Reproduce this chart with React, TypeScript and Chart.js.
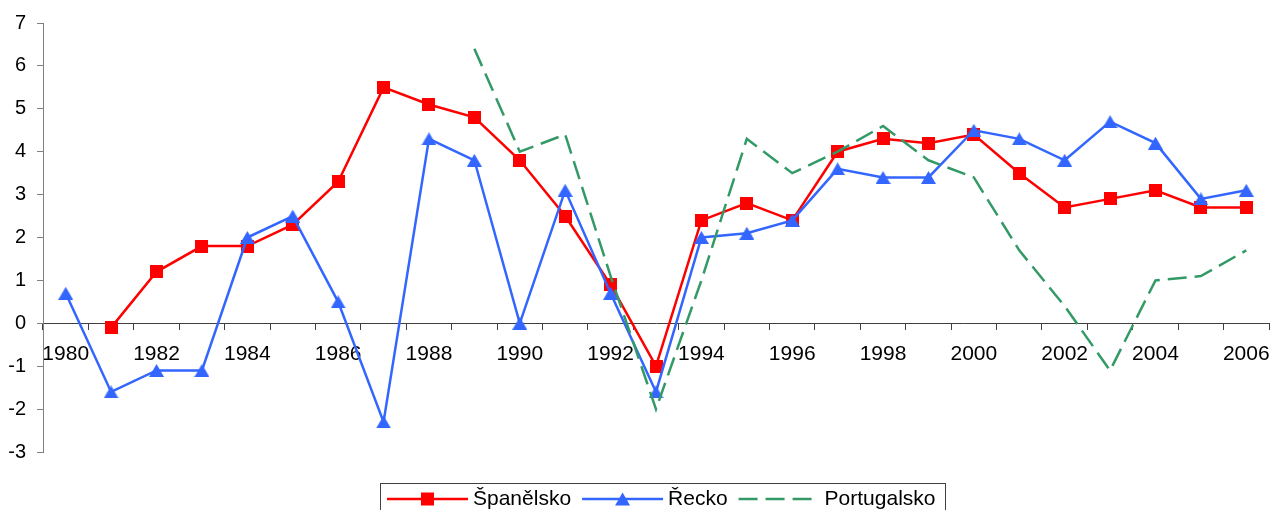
import React, { useEffect, useRef } from 'react';
import { Chart, registerables } from 'chart.js';

Chart.register(...registerables);

const years = [
  '1980', '1981', '1982', '1983', '1984', '1985', '1986', '1987', '1988', '1989',
  '1990', '1991', '1992', '1993', '1994', '1995', '1996', '1997', '1998', '1999',
  '2000', '2001', '2002', '2003', '2004', '2005', '2006',
];

const spain = [
  null, -0.1, 1.2, 1.8, 1.8, 2.3, 3.3, 5.5, 5.1, 4.8,
  3.8, 2.5, 0.9, -1.0, 2.4, 2.8, 2.4, 4.0, 4.3, 4.2,
  4.4, 3.5, 2.7, 2.9, 3.1, 2.7, 2.7,
];

const greece = [
  0.7, -1.6, -1.1, -1.1, 2.0, 2.5, 0.5, -2.3, 4.3, 3.8,
  0.0, 3.1, 0.7, -1.6, 2.0, 2.1, 2.4, 3.6, 3.4, 3.4,
  4.5, 4.3, 3.8, 4.7, 4.2, 2.9, 3.1,
];

const portugal = [
  null, null, null, null, null, null, null, null, null, 6.4,
  4.0, 4.4, 1.1, -2.0, 1.0, 4.3, 3.5, 4.0, 4.6, 3.8,
  3.4, 1.7, 0.4, -1.1, 1.0, 1.1, 1.7,
];

const seriesNames = ['Španělsko', 'Řecko', 'Portugalsko'];
const yMin = -3;
const yMax = 7;

const RED = '#FF0000';
const BLUE = '#3366FF';
const GREEN = '#339966';
const FONT = '"Liberation Sans", Arial, sans-serif';
const DASH = [19, 8];

function makeTriangle(color: string) {
  const c = document.createElement('canvas');
  c.width = 15;
  c.height = 13;
  const g = c.getContext('2d')!;
  g.fillStyle = color;
  g.beginPath();
  g.moveTo(7.5, 0);
  g.lineTo(15, 13);
  g.lineTo(0, 13);
  g.closePath();
  g.fill();
  return c;
}

function makeSquare(color: string) {
  const c = document.createElement('canvas');
  c.width = 13;
  c.height = 13;
  const g = c.getContext('2d')!;
  g.fillStyle = color;
  g.fillRect(0, 0, 13, 13);
  return c;
}

const legendPlugin = {
  id: 'boxLegend',
  afterDraw(chart: any) {
    const ctx = chart.ctx as CanvasRenderingContext2D;
    const items = [
      { label: seriesNames[0], color: RED, dash: [] as number[], marker: 'square' },
      { label: seriesNames[1], color: BLUE, dash: [] as number[], marker: 'triangle' },
      { label: seriesNames[2], color: GREEN, dash: DASH, marker: 'none' },
    ];
    ctx.save();
    ctx.font = '21px ' + FONT;
    const sample = 81;
    const gapText = 5;
    const gapItem = 11;
    const padL = 7;
    const padR = 10;
    const widths = items.map((it) => ctx.measureText(it.label).width);
    const total =
      padL + widths.reduce((s, w) => s + sample + gapText + w, 0) + gapItem * (items.length - 1) + padR;
    const left = 380;
    const top = 483;
    const cy = 499;
    ctx.strokeStyle = '#404040';
    ctx.lineWidth = 1;
    ctx.strokeRect(left + 0.5, top + 0.5, Math.round(total), 40);
    let x = left + padL;
    items.forEach((it, i) => {
      ctx.save();
      ctx.strokeStyle = it.color;
      ctx.lineWidth = 2.5;
      ctx.setLineDash(it.dash);
      ctx.beginPath();
      ctx.moveTo(x, cy);
      ctx.lineTo(x + sample, cy);
      ctx.stroke();
      ctx.restore();
      const mx = x + sample / 2;
      ctx.fillStyle = it.color;
      if (it.marker === 'square') {
        ctx.fillRect(mx - 6.5, cy - 6.5, 13, 13);
      } else if (it.marker === 'triangle') {
        ctx.beginPath();
        ctx.moveTo(mx, cy - 6.5);
        ctx.lineTo(mx + 7.5, cy + 6.5);
        ctx.lineTo(mx - 7.5, cy + 6.5);
        ctx.closePath();
        ctx.fill();
      }
      x += sample + gapText;
      ctx.fillStyle = '#000';
      ctx.textBaseline = 'middle';
      ctx.textAlign = 'left';
      ctx.fillText(it.label, x, cy);
      x += widths[i] + gapItem;
    });
    ctx.restore();
  },
};

export default function App() {
  const ref = useRef<HTMLCanvasElement>(null);

  useEffect(() => {
    document.body.style.margin = '0';
    const canvas = ref.current!;
    const chart = new Chart(canvas, {
      type: 'line',
      data: {
        labels: years,
        datasets: [
          {
            label: seriesNames[0],
            data: spain,
            borderColor: RED,
            backgroundColor: RED,
            borderWidth: 2.5,
            pointStyle: makeSquare(RED) as any,
            pointRadius: 7,
            tension: 0,
            order: 3,
          },
          {
            label: seriesNames[1],
            data: greece,
            borderColor: BLUE,
            backgroundColor: BLUE,
            borderWidth: 2.5,
            pointStyle: makeTriangle(BLUE) as any,
            pointRadius: 7,
            tension: 0,
            order: 2,
          },
          {
            label: seriesNames[2],
            data: portugal,
            borderColor: GREEN,
            backgroundColor: GREEN,
            borderWidth: 2.5,
            borderDash: DASH,
            pointRadius: 0,
            tension: 0,
            order: 1,
          },
        ],
      },
      options: {
        responsive: false,
        animation: false,
        devicePixelRatio: 1,
        layout: { autoPadding: false, padding: { top: 23, right: 2, bottom: 58, left: 0 } },
        plugins: {
          legend: { display: false },
          tooltip: { enabled: false },
        },
        scales: {
          x: {
            type: 'category',
            position: { y: 0 } as any,
            offset: true,
            grid: {
              offset: true,
              drawOnChartArea: false,
              drawTicks: true,
              tickLength: 6,
              color: '#404040',
              lineWidth: 1,
            },
            border: { display: true, color: '#404040', width: 1 },
            ticks: {
              autoSkip: false,
              maxRotation: 0,
              minRotation: 0,
              padding: 12,
              color: '#000',
              font: { family: FONT, size: 21 },
              callback: (_v: any, i: number) => (i % 2 === 0 ? years[i] : ''),
            },
            afterFit: (scale: any) => {
              scale.paddingLeft = 0;
              scale.paddingRight = 0;
              scale.paddingTop = 0;
              scale.paddingBottom = 0;
            },
          },
          y: {
            type: 'linear',
            min: yMin,
            max: yMax,
            grid: {
              drawOnChartArea: false,
              drawTicks: true,
              tickLength: 6,
              color: '#808080',
              lineWidth: 1,
            },
            border: { display: true, color: '#808080', width: 1 },
            ticks: {
              stepSize: 1,
              padding: 11,
              color: '#000',
              font: { family: FONT, size: 20 },
            },
            afterFit: (scale: any) => {
              scale.width = 43;
              scale.paddingTop = 0;
              scale.paddingBottom = 0;
            },
          },
        },
      },
      plugins: [legendPlugin],
    });
    return () => chart.destroy();
  }, []);

  return (
    <div style={{ position: 'fixed', left: 0, top: 0, width: 1271, height: 510 }}>
      <canvas ref={ref} width={1271} height={510} style={{ width: 1271, height: 510, display: 'block' }} />
    </div>
  );
}
